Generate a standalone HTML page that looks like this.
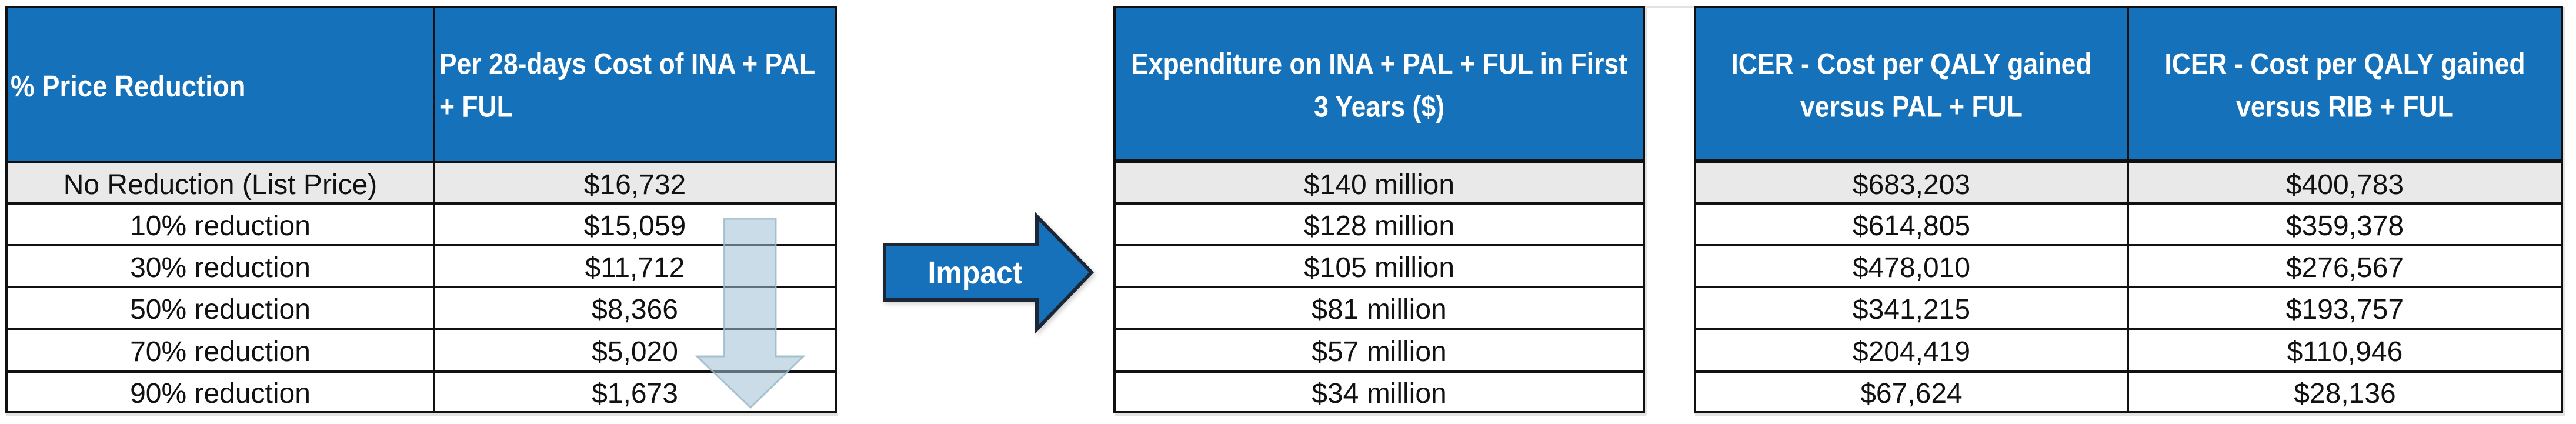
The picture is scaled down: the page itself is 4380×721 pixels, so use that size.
<!DOCTYPE html>
<html>
<head>
<meta charset="utf-8">
<style>
  html,body{margin:0;padding:0;background:#fff;}
  body{width:4380px;height:721px;position:relative;overflow:hidden;}
  .b{position:absolute;background:#111;}
  .sh{position:absolute;background:#e2e2e2;}
  .g{position:absolute;background:#e9e9e9;}
  .hd{position:absolute;top:14px;height:260px;background:#1571ba;color:#fff;
      font-family:"Liberation Sans",sans-serif;font-weight:bold;font-size:44.5px;
      display:flex;flex-direction:column;justify-content:center;
      padding-top:4px;box-sizing:border-box;}
  .hd div{line-height:73px;white-space:nowrap;}
  .hd span{display:inline-block;transform:scaleY(1.12);}
  .ctr{align-items:center;text-align:center;}
  .lft{align-items:flex-start;text-align:left;}
  .c{position:absolute;display:flex;align-items:center;justify-content:center;
     font-family:"Liberation Sans",sans-serif;font-size:48px;color:#111;
     padding-top:6px;box-sizing:border-box;white-space:nowrap;}
</style>
</head>
<body>

<!-- ============ TABLE 1 ============ -->
<div class="sh" style="left:11px;top:703px;width:1414px;height:5px;"></div>
<div class="hd lft" style="left:13px;width:723px;padding-left:5px;font-size:45.5px;"><div><span>% Price Reduction</span></div></div>
<div class="hd lft" style="left:740px;width:679px;padding-left:7px;"><div><span>Per 28-days Cost of INA + PAL</span></div><div><span>+ FUL</span></div></div>
<div class="g" style="left:13px;top:278px;width:1406px;height:66px;"></div>

<div class="c" style="left:13px;top:278px;width:723px;height:66px;">No Reduction (List Price)</div>
<div class="c" style="left:13px;top:348px;width:723px;height:67px;">10% reduction</div>
<div class="c" style="left:13px;top:419px;width:723px;height:67px;">30% reduction</div>
<div class="c" style="left:13px;top:490px;width:723px;height:67px;">50% reduction</div>
<div class="c" style="left:13px;top:561px;width:723px;height:69px;">70% reduction</div>
<div class="c" style="left:13px;top:634px;width:723px;height:65px;">90% reduction</div>

<div class="c" style="left:740px;top:278px;width:679px;height:66px;">$16,732</div>
<div class="c" style="left:740px;top:348px;width:679px;height:67px;">$15,059</div>
<div class="c" style="left:740px;top:419px;width:679px;height:67px;">$11,712</div>
<div class="c" style="left:740px;top:490px;width:679px;height:67px;">$8,366</div>
<div class="c" style="left:740px;top:561px;width:679px;height:69px;">$5,020</div>
<div class="c" style="left:740px;top:634px;width:679px;height:65px;">$1,673</div>

<div class="b" style="left:9px;top:10px;width:1414px;height:4px;"></div>
<div class="b" style="left:9px;top:699px;width:1414px;height:4px;"></div>
<div class="b" style="left:9px;top:10px;width:4px;height:693px;"></div>
<div class="b" style="left:1419px;top:10px;width:4px;height:693px;"></div>
<div class="b" style="left:736px;top:10px;width:4px;height:693px;"></div>
<div class="b" style="left:9px;top:274px;width:1414px;height:4px;"></div>
<div class="b" style="left:9px;top:344px;width:1414px;height:4px;"></div>
<div class="b" style="left:9px;top:415px;width:1414px;height:4px;"></div>
<div class="b" style="left:9px;top:486px;width:1414px;height:4px;"></div>
<div class="b" style="left:9px;top:557px;width:1414px;height:4px;"></div>
<div class="b" style="left:9px;top:630px;width:1414px;height:4px;"></div>

<!-- ============ TABLE 2 ============ -->
<div class="sh" style="left:1895px;top:703px;width:904px;height:5px;"></div>
<div class="sh" style="left:2797px;top:12px;width:3px;height:694px;"></div>
<div class="sh" style="left:2797px;top:11px;width:83px;height:2px;"></div>
<div class="hd ctr" style="left:1897px;width:896px;"><div><span>Expenditure on INA + PAL + FUL in First</span></div><div><span>3 Years ($)</span></div></div>
<div class="g" style="left:1897px;top:278px;width:896px;height:66px;"></div>

<div class="c" style="left:1897px;top:278px;width:896px;height:66px;">$140 million</div>
<div class="c" style="left:1897px;top:348px;width:896px;height:67px;">$128 million</div>
<div class="c" style="left:1897px;top:419px;width:896px;height:67px;">$105 million</div>
<div class="c" style="left:1897px;top:490px;width:896px;height:67px;">$81 million</div>
<div class="c" style="left:1897px;top:561px;width:896px;height:69px;">$57 million</div>
<div class="c" style="left:1897px;top:634px;width:896px;height:65px;">$34 million</div>

<div class="b" style="left:1893px;top:10px;width:904px;height:4px;"></div>
<div class="b" style="left:1893px;top:699px;width:904px;height:4px;"></div>
<div class="b" style="left:1893px;top:10px;width:4px;height:693px;"></div>
<div class="b" style="left:2793px;top:10px;width:4px;height:693px;"></div>
<div class="b" style="left:1893px;top:270px;width:904px;height:8px;"></div>
<div class="b" style="left:1893px;top:344px;width:904px;height:4px;"></div>
<div class="b" style="left:1893px;top:415px;width:904px;height:4px;"></div>
<div class="b" style="left:1893px;top:486px;width:904px;height:4px;"></div>
<div class="b" style="left:1893px;top:557px;width:904px;height:4px;"></div>
<div class="b" style="left:1893px;top:630px;width:904px;height:4px;"></div>

<!-- ============ TABLE 3 ============ -->
<div class="sh" style="left:2882px;top:703px;width:1480px;height:5px;"></div>
<div class="sh" style="left:4358px;top:12px;width:4px;height:694px;"></div>
<div class="hd ctr" style="left:2884px;width:732px;"><div><span>ICER - Cost per QALY gained</span></div><div><span>versus PAL + FUL</span></div></div>
<div class="hd ctr" style="left:3620px;width:734px;"><div><span>ICER - Cost per QALY gained</span></div><div><span>versus RIB + FUL</span></div></div>
<div class="g" style="left:2884px;top:278px;width:1470px;height:66px;"></div>

<div class="c" style="left:2884px;top:278px;width:732px;height:66px;">$683,203</div>
<div class="c" style="left:2884px;top:348px;width:732px;height:67px;">$614,805</div>
<div class="c" style="left:2884px;top:419px;width:732px;height:67px;">$478,010</div>
<div class="c" style="left:2884px;top:490px;width:732px;height:67px;">$341,215</div>
<div class="c" style="left:2884px;top:561px;width:732px;height:69px;">$204,419</div>
<div class="c" style="left:2884px;top:634px;width:732px;height:65px;">$67,624</div>

<div class="c" style="left:3620px;top:278px;width:734px;height:66px;">$400,783</div>
<div class="c" style="left:3620px;top:348px;width:734px;height:67px;">$359,378</div>
<div class="c" style="left:3620px;top:419px;width:734px;height:67px;">$276,567</div>
<div class="c" style="left:3620px;top:490px;width:734px;height:67px;">$193,757</div>
<div class="c" style="left:3620px;top:561px;width:734px;height:69px;">$110,946</div>
<div class="c" style="left:3620px;top:634px;width:734px;height:65px;">$28,136</div>

<div class="b" style="left:2880px;top:10px;width:1478px;height:4px;"></div>
<div class="b" style="left:2880px;top:699px;width:1478px;height:4px;"></div>
<div class="b" style="left:2880px;top:10px;width:4px;height:693px;"></div>
<div class="b" style="left:4354px;top:10px;width:4px;height:693px;"></div>
<div class="b" style="left:3616px;top:10px;width:4px;height:693px;"></div>
<div class="b" style="left:2880px;top:270px;width:1478px;height:8px;"></div>
<div class="b" style="left:2880px;top:344px;width:1478px;height:4px;"></div>
<div class="b" style="left:2880px;top:415px;width:1478px;height:4px;"></div>
<div class="b" style="left:2880px;top:486px;width:1478px;height:4px;"></div>
<div class="b" style="left:2880px;top:557px;width:1478px;height:4px;"></div>
<div class="b" style="left:2880px;top:630px;width:1478px;height:4px;"></div>

<!-- ============ ARROWS ============ -->
<svg width="4380" height="721" viewBox="0 0 4380 721" style="position:absolute;left:0;top:0;" xmlns="http://www.w3.org/2000/svg">
  <defs>
    <filter id="ds" x="-10%" y="-10%" width="130%" height="130%">
      <feDropShadow dx="3" dy="4" stdDeviation="4" flood-color="#000" flood-opacity="0.18"/>
    </filter>
  </defs>
  <!-- down arrow (translucent) -->
  <polygon points="1231,372 1319,372 1319,606 1366,606 1276,693 1185,606 1231,606"
           fill="#9dbfd3" fill-opacity="0.55" stroke="#9bb6c7" stroke-opacity="0.8" stroke-width="3"/>
  <!-- Impact arrow -->
  <polygon points="1504,416 1763,416 1763,368 1856,463 1763,560 1763,510 1504,510"
           fill="#1571ba" stroke="#1b2836" stroke-width="6" stroke-linejoin="miter" filter="url(#ds)"/>
  <text transform="translate(1658,482) scale(1,1.08)" x="0" y="0" text-anchor="middle"
        font-family="Liberation Sans, sans-serif" font-weight="bold" font-size="50" fill="#ffffff">Impact</text>
</svg>

</body>
</html>
